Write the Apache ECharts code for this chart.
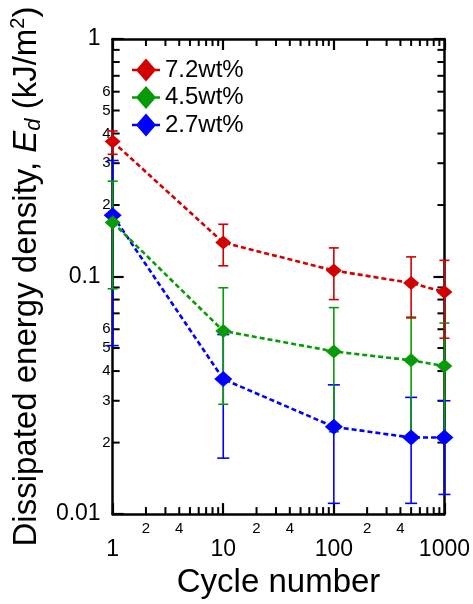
<!DOCTYPE html>
<html>
<head>
<meta charset="utf-8">
<script src="https://cdn.jsdelivr.net/npm/echarts@6/dist/echarts.min.js"></script>
<style>
  html, body { margin: 0; padding: 0; background: #fff; }
  #chart { width: 473px; height: 604px; }
</style>
</head>
<body>
<div id="chart"></div>
<script>
// cycle numbers (x) and dissipated energy density (y, kJ/m2)
const cycles = [1, 10, 100, 500, 1000]

const ed72 = [0.37, 0.139, 0.106, 0.094, 0.086]
const low72 = [0.327, 0.111, 0.080, 0.067, 0.055]
const high72 = [0.41, 0.166, 0.132, 0.121, 0.117]

const ed45 = [0.169, 0.059, 0.0484, 0.0444, 0.042]
const low45 = [0.0888, 0.029, 0.0222, 0.021, 0.021]
const high45 = [0.252, 0.0897, 0.074, 0.0675, 0.0637]

const ed27 = [0.181, 0.037, 0.0233, 0.021, 0.021]
const low27 = [0.0512, 0.0172, 0.0111, 0.0111, 0.0121]
const high27 = [0.308, 0.057, 0.035, 0.031, 0.030]

const seriesNames = ['7.2wt%', '4.5wt%', '2.7wt%']

// axis ranges and minor ticks
const X_MIN = 1, X_MAX = 1000
const Y_MIN = 0.01, Y_MAX = 1
const xMinorTicks = [2, 3, 4, 5, 6, 7, 8, 9, 20, 30, 40, 50, 60, 70, 80, 90, 200, 300, 400, 500, 600, 700, 800, 900]
const yMinorTicks = [0.02, 0.03, 0.04, 0.05, 0.06, 0.07, 0.08, 0.09, 0.2, 0.3, 0.4, 0.5, 0.6, 0.7, 0.8, 0.9]
const xMinorLabelDigits = [2, 4]
const yMinorLabelDigits = [2, 3, 4, 5, 6]

const colors = { r: '#d20000', g: '#089a08', b: '#0000ff' }
const FONT = '"Liberation Sans", Arial, sans-serif'
const MINOR_LEN = 7

// legend icon: diamond with short line stubs on both sides
const LEGEND_ICON = 'path://M0,10.3L5,10.3L14,0L23,10.3L28,10.3L28,12.7L23,12.7L14,23L5,12.7L0,12.7Z'

const leadDigit = v => Math.round(v / Math.pow(10, Math.floor(Math.log10(v) + 1e-9)))

const tickStyle = { stroke: '#000', lineWidth: 2 }

const renderXTick = (params, api) => {
  const v = api.value(0)
  const b = api.coord([v, Y_MIN])
  const t = api.coord([v, Y_MAX])
  const children = [
    { type: 'line', shape: { x1: b[0], y1: b[1], x2: b[0], y2: b[1] - MINOR_LEN }, style: tickStyle },
    { type: 'line', shape: { x1: t[0], y1: t[1], x2: t[0], y2: t[1] + MINOR_LEN }, style: tickStyle }
  ]
  const d = leadDigit(v)
  if (xMinorLabelDigits.includes(d)) {
    children.push({
      type: 'text',
      style: { text: String(d), x: b[0], y: b[1] + 15, align: 'center', verticalAlign: 'middle', font: '15px ' + FONT, fill: '#000' }
    })
  }
  return { type: 'group', children }
}

const renderYTick = (params, api) => {
  const v = api.value(1)
  const l = api.coord([X_MIN, v])
  const r = api.coord([X_MAX, v])
  const children = [
    { type: 'line', shape: { x1: l[0], y1: l[1], x2: l[0] + MINOR_LEN, y2: l[1] }, style: tickStyle },
    { type: 'line', shape: { x1: r[0], y1: r[1], x2: r[0] - MINOR_LEN, y2: r[1] }, style: tickStyle }
  ]
  const d = leadDigit(v)
  if (yMinorLabelDigits.includes(d)) {
    children.push({
      type: 'text',
      style: { text: String(d), x: l[0] - 2, y: l[1], align: 'right', verticalAlign: 'middle', font: '15px ' + FONT, fill: '#000' }
    })
  }
  return { type: 'group', children }
}

const errorBarSeries = (low, high, color, capW) => ({
  type: 'custom',
  silent: true,
  clip: false,
  z: 1,
  data: cycles.map((c, i) => [c, low[i], high[i]]),
  encode: { x: 0, y: [1, 2] },
  renderItem: (params, api) => {
    const x = api.value(0)
    const lo = api.coord([x, api.value(1)])
    const hi = api.coord([x, api.value(2)])
    const st = { stroke: color, lineWidth: 1.6 }
    return {
      type: 'group',
      children: [
        { type: 'line', shape: { x1: lo[0], y1: lo[1], x2: hi[0], y2: hi[1] }, style: st },
        { type: 'line', shape: { x1: lo[0] - capW / 2, y1: lo[1], x2: lo[0] + capW / 2, y2: lo[1] }, style: st },
        { type: 'line', shape: { x1: hi[0] - capW / 2, y1: hi[1], x2: hi[0] + capW / 2, y2: hi[1] }, style: st }
      ]
    }
  }
})

const lineSeries = (name, values, color, size) => ({
  name,
  type: 'line',
  clip: false,
  z: 3,
  data: cycles.map((c, i) => [c, values[i]]),
  symbol: 'diamond',
  symbolSize: size,
  itemStyle: { color },
  lineStyle: { color, width: 2.6, type: [5, 3] }
})

const logAxisCommon = {
  type: 'log',
  logBase: 10,
  axisLine: { show: true, lineStyle: { color: '#000', width: 2.5 } },
  axisTick: { show: true, inside: true, length: 11, lineStyle: { color: '#000', width: 2.2 } },
  splitLine: { show: false },
  minorTick: { show: false },
  minorSplitLine: { show: false }
}

const labelFormatter = v => String(+(+v).toPrecision(3))

const chart = echarts.init(document.getElementById('chart'))

chart.setOption({
  backgroundColor: '#fff',
  animation: false,
  textStyle: { fontFamily: FONT },
  grid: { left: 110, right: 28, top: 39, bottom: 81 },
  legend: {
    left: 127,
    top: 53,
    orient: 'vertical',
    icon: LEGEND_ICON,
    itemWidth: 28,
    itemHeight: 23,
    itemGap: 3.5,
    data: seriesNames,
    textStyle: { fontSize: 24, color: '#000', fontFamily: FONT }
  },
  xAxis: [
    {
      ...logAxisCommon,
      min: X_MIN,
      max: X_MAX,
      position: 'bottom',
      name: 'Cycle number',
      nameLocation: 'middle',
      nameGap: 46,
      nameTextStyle: { fontSize: 33, color: '#000', fontFamily: FONT },
      axisLabel: { show: true, margin: 24, fontSize: 23, color: '#000', fontFamily: FONT, formatter: labelFormatter }
    },
    {
      ...logAxisCommon,
      min: X_MIN,
      max: X_MAX,
      position: 'top',
      axisLabel: { show: false }
    }
  ],
  yAxis: [
    {
      ...logAxisCommon,
      min: Y_MIN,
      max: Y_MAX,
      position: 'left',
      name: 'Dissipated energy density, {i|E}{sub|d} (kJ/m{sup|2})',
      nameLocation: 'middle',
      nameRotate: 90,
      nameGap: 60,
      nameTextStyle: {
        fontSize: 33,
        color: '#000',
        fontFamily: FONT,
        lineHeight: 37,
        rich: {
          i: { fontSize: 33, fontStyle: 'italic', fontFamily: FONT, color: '#000', lineHeight: 37 },
          sub: { fontSize: 22, fontStyle: 'italic', fontFamily: FONT, color: '#000', lineHeight: 22, verticalAlign: 'bottom' },
          sup: { fontSize: 20, fontFamily: FONT, color: '#000', lineHeight: 20, verticalAlign: 'top' }
        }
      },
      axisLabel: { show: true, margin: 12, fontSize: 23, color: '#000', fontFamily: FONT, formatter: labelFormatter }
    },
    {
      ...logAxisCommon,
      min: Y_MIN,
      max: Y_MAX,
      position: 'right',
      axisLabel: { show: false }
    }
  ],
  series: [
    {
      type: 'custom',
      silent: true,
      clip: false,
      z: 0,
      data: xMinorTicks.map(v => [v, Y_MIN]),
      encode: { x: 0, y: 1 },
      renderItem: renderXTick
    },
    {
      type: 'custom',
      silent: true,
      clip: false,
      z: 0,
      data: yMinorTicks.map(v => [X_MIN, v]),
      encode: { x: 0, y: 1 },
      renderItem: renderYTick
    },
    errorBarSeries(low27, high27, colors.b, 12),
    errorBarSeries(low45, high45, colors.g, 10),
    errorBarSeries(low72, high72, colors.r, 10),
    lineSeries(seriesNames[2], ed27, colors.b, [18, 16]),
    lineSeries(seriesNames[1], ed45, colors.g, [16, 14]),
    lineSeries(seriesNames[0], ed72, colors.r, [16, 14])
  ]
})

window.addEventListener('resize', () => chart.resize())
</script>
</body>
</html>
